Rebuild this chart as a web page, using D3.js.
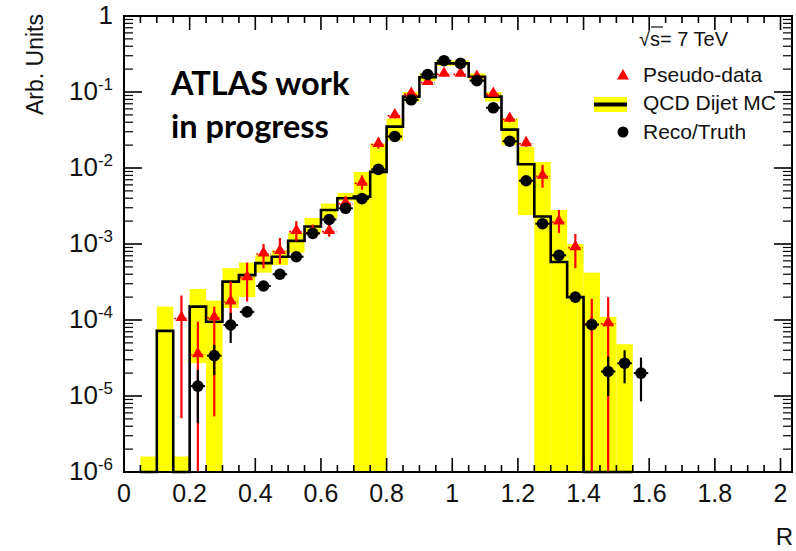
<!DOCTYPE html>
<html lang="en">
<head>
<meta charset="utf-8">
<script src="https://cdn.jsdelivr.net/npm/d3@7/dist/d3.min.js"></script>
<style type="text/css">
body {
	margin: 0;
	background-color: #ffffff;
}
svg text {
	font-family: 'Liberation Sans', Arial, sans-serif;
	fill: #111;
}
.stamp {
	font-family: Lato, 'Open Sans', sans-serif;
	font-weight: 700;
	fill: #000;
}
</style>
</head>
<body>
<script type="text/javascript">

// MC histogram bins (width 0.05), values and yellow uncertainty band
var binCenters = [0.075, 0.125, 0.175, 0.225, 0.275, 0.325, 0.375, 0.425, 0.475, 0.525,
	0.575, 0.625, 0.675, 0.725, 0.775, 0.825, 0.875, 0.925, 0.975, 1.025,
	1.075, 1.125, 1.175, 1.225, 1.275, 1.325, 1.375, 1.425, 1.475, 1.525];
var mcValues = [0, 7.2e-5, 0, 1.5e-4, 9.5e-5, 3.2e-4, 3.9e-4, 5.6e-4, 6.8e-4, 1.1e-3,
	1.7e-3, 2.8e-3, 4.0e-3, 4.2e-3, 8.9e-3, 3.5e-2, 8.7e-2, 0.156, 0.238, 0.238,
	0.159, 0.087, 0.032, 0.0112, 2.3e-3, 5.8e-4, 2.0e-4, 0, 0, 0];
var bandLow = [0, 0, 0, 2.7e-5, 0, 1.44e-4, 2.0e-4, 4.2e-4, 5.3e-4, 7.7e-4,
	1.4e-3, 2.2e-3, 3.7e-3, 0, 0, 2.3e-2, 7.5e-2, 0.14, 0.22, 0.22,
	0.145, 0.075, 0.02, 2.4e-3, 0, 0, 0, 0, 0, 0];
var bandHigh = [1.6e-6, 1.5e-4, 1.6e-6, 2.56e-4, 1.8e-4, 4.8e-4, 5.7e-4, 7.1e-4, 8.2e-4, 1.4e-3,
	2.2e-3, 3.4e-3, 4.7e-3, 8.9e-3, 2.1e-2, 4.5e-2, 0.1, 0.175, 0.26, 0.26,
	0.175, 0.1, 0.045, 0.019, 0.012, 2.8e-3, 1.0e-3, 4.2e-4, 1.1e-4, 4.8e-5];

// Pseudo-data (red triangles)
var pseudoR = [0.175, 0.225, 0.275, 0.325, 0.375, 0.425, 0.475, 0.525, 0.575, 0.625,
	0.675, 0.725, 0.775, 0.825, 0.875, 0.925, 0.975, 1.025, 1.075, 1.125,
	1.175, 1.225, 1.275, 1.325, 1.375, 1.425, 1.475];
var pseudoValues = [1.08e-4, 3.6e-5, 1.1e-4, 1.78e-4, 3.7e-4, 7.6e-4, 8.2e-4, 1.5e-3, 1.45e-3, 1.5e-3,
	3.5e-3, 6.5e-3, 2.1e-2, 5.0e-2, 9.6e-2, 0.137, 0.176, 0.176, 0.16, 0.096,
	0.045, 0.0215, 8.0e-3, 2.0e-3, 9.2e-4, 9.2e-5, 9.2e-5];
var pseudoLow = [5.1e-6, 0, 5.4e-6, 1.0e-4, 1.75e-4, 4.8e-4, 5.5e-4, 1.1e-3, 1.2e-3, 1.25e-3,
	2.9e-3, 5.2e-3, 1.8e-2, 4.5e-2, 8.8e-2, 0.126, 0.162, 0.162, 0.147, 0.088,
	0.040, 0.019, 5.5e-3, 1.4e-3, 4.8e-4, 0, 0];
var pseudoHigh = [2.1e-4, 9.5e-5, 1.5e-4, 3.2e-4, 5.7e-4, 1.0e-3, 1.2e-3, 2.0e-3, 1.8e-3, 1.9e-3,
	4.2e-3, 8.0e-3, 2.5e-2, 5.6e-2, 0.105, 0.15, 0.19, 0.19, 0.175, 0.105,
	0.051, 0.025, 1.1e-2, 2.8e-3, 1.35e-3, 1.9e-4, 2.0e-4];

// Reco/Truth (black circles)
var recoR = [0.225, 0.275, 0.325, 0.375, 0.425, 0.475, 0.525, 0.575, 0.625, 0.675,
	0.725, 0.775, 0.825, 0.875, 0.925, 0.975, 1.025, 1.075, 1.125, 1.175,
	1.225, 1.275, 1.325, 1.375, 1.425, 1.475, 1.525, 1.575];
var recoValues = [1.35e-5, 3.4e-5, 8.6e-5, 1.28e-4, 2.8e-4, 4.0e-4, 6.8e-4, 1.38e-3, 2.1e-3, 2.95e-3,
	3.95e-3, 9.6e-3, 2.6e-2, 0.079, 0.17, 0.258, 0.238, 0.141, 0.062, 0.0225,
	6.8e-3, 1.85e-3, 7.1e-4, 2.0e-4, 8.7e-5, 2.1e-5, 2.7e-5, 2.0e-5];
var recoLow = [4.4e-6, 1.9e-5, 5.0e-5, 1.15e-4, 2.5e-4, 3.6e-4, 6.1e-4, 1.24e-3, 1.9e-3, 2.65e-3,
	3.55e-3, 8.6e-3, 2.35e-2, 0.071, 0.153, 0.232, 0.214, 0.127, 0.056, 0.02,
	6.1e-3, 1.66e-3, 6.4e-4, 1.8e-4, 7.5e-5, 1.0e-5, 1.47e-5, 8.5e-6];
var recoHigh = [2.2e-5, 4.7e-5, 1.24e-4, 1.41e-4, 3.1e-4, 4.4e-4, 7.5e-4, 1.52e-3, 2.3e-3, 3.25e-3,
	4.35e-3, 1.06e-2, 2.85e-2, 0.087, 0.187, 0.284, 0.262, 0.155, 0.068, 0.025,
	7.5e-3, 2.05e-3, 7.8e-4, 2.2e-4, 1.0e-4, 3.3e-5, 4.0e-5, 3.2e-5];

var xTickValues = [0, 0.2, 0.4, 0.6, 0.8, 1, 1.2, 1.4, 1.6, 1.8, 2];
var yTickExponents = [0, -1, -2, -3, -4, -5, -6];
var binWidth = 0.05;

var width = 796, height = 551;
var padL = 124, padR = 792, padT = 16, padB = 472;

var svg = d3.select("body").append("svg")
	.attr("width", width)
	.attr("height", height);

var x = d3.scaleLinear().domain([0, 2.035]).range([padL, padR]);
var y = d3.scaleLog().domain([1e-6, 1]).range([padB, padT]).clamp(true);

// zero values sit on the axis
function yv(v) { return v > 0 ? y(v) : padB; }

// yellow band
svg.append("g").selectAll("rect")
	.data(binCenters)
	.enter().append("rect")
	.attr("x", function(d) { return x(d - binWidth / 2); })
	.attr("width", function(d) { return x(d + binWidth / 2) - x(d - binWidth / 2); })
	.attr("y", function(d, i) { return yv(bandHigh[i]); })
	.attr("height", function(d, i) { return yv(bandLow[i]) - yv(bandHigh[i]); })
	.style("fill", "#ffff00");

// MC step line
var stepPts = binCenters.map(function(c, i) { return [c - binWidth / 2, mcValues[i]]; });
stepPts.push([binCenters[binCenters.length - 1] + binWidth / 2, 0]);
var step = d3.line()
	.x(function(d) { return x(d[0]); })
	.y(function(d) { return yv(d[1]); })
	.curve(d3.curveStepAfter);
svg.append("path")
	.datum(stepPts)
	.attr("d", step)
	.style("fill", "none")
	.style("stroke", "#000")
	.style("stroke-width", 2.6);

// pseudo-data
var red = svg.append("g");
red.selectAll("line.err")
	.data(pseudoR)
	.enter().append("line")
	.attr("class", "err")
	.attr("x1", function(d) { return x(d); })
	.attr("x2", function(d) { return x(d); })
	.attr("y1", function(d, i) { return yv(pseudoLow[i]); })
	.attr("y2", function(d, i) { return yv(pseudoHigh[i]); })
	.style("stroke", "#ff0000")
	.style("stroke-width", 2.2);
red.selectAll("line.hbar")
	.data(pseudoR)
	.enter().append("line")
	.attr("class", "hbar")
	.attr("x1", function(d) { return x(d - 0.022); })
	.attr("x2", function(d) { return x(d + 0.022); })
	.attr("y1", function(d, i) { return y(pseudoValues[i]) + 1; })
	.attr("y2", function(d, i) { return y(pseudoValues[i]) + 1; })
	.style("stroke", "#ff0000")
	.style("stroke-width", 1.6)
	.style("stroke-dasharray", "2,1.5");
red.selectAll("path")
	.data(pseudoR)
	.enter().append("path")
	.attr("d", d3.symbol().type(d3.symbolTriangle).size(62))
	.attr("transform", function(d, i) { return "translate(" + x(d) + "," + y(pseudoValues[i]) + ")"; })
	.style("fill", "#ff0000");

// reco/truth
var blk = svg.append("g");
blk.selectAll("line.err")
	.data(recoR)
	.enter().append("line")
	.attr("class", "err")
	.attr("x1", function(d) { return x(d); })
	.attr("x2", function(d) { return x(d); })
	.attr("y1", function(d, i) { return yv(recoLow[i]); })
	.attr("y2", function(d, i) { return yv(recoHigh[i]); })
	.style("stroke", "#000")
	.style("stroke-width", 2.2);
blk.selectAll("line.hbar")
	.data(recoR)
	.enter().append("line")
	.attr("class", "hbar")
	.attr("x1", function(d) { return x(d - 0.022); })
	.attr("x2", function(d) { return x(d + 0.022); })
	.attr("y1", function(d, i) { return y(recoValues[i]); })
	.attr("y2", function(d, i) { return y(recoValues[i]); })
	.style("stroke", "#000")
	.style("stroke-width", 2);
blk.selectAll("circle")
	.data(recoR)
	.enter().append("circle")
	.attr("cx", function(d) { return x(d); })
	.attr("cy", function(d, i) { return y(recoValues[i]); })
	.attr("r", 5.8)
	.style("fill", "#000");

// frame and ticks
var axes = svg.append("g").style("stroke", "#000");
axes.append("rect")
	.attr("x", padL).attr("y", padT)
	.attr("width", padR - padL).attr("height", padB - padT)
	.style("fill", "none")
	.style("stroke-width", 2);

var xMinor = d3.range(0, 2.0001, 0.05);
xMinor.forEach(function(v) {
	var major = Math.abs(v / 0.2 - Math.round(v / 0.2)) < 1e-6;
	var len = major ? 14 : 7;
	axes.append("line").attr("x1", x(v)).attr("x2", x(v)).attr("y1", padB).attr("y2", padB - len).style("stroke-width", 1.6);
	axes.append("line").attr("x1", x(v)).attr("x2", x(v)).attr("y1", padT).attr("y2", padT + len).style("stroke-width", 1.6);
});

yTickExponents.forEach(function(e) {
	var v = Math.pow(10, e);
	axes.append("line").attr("x1", padL).attr("x2", padL + 18).attr("y1", y(v)).attr("y2", y(v)).style("stroke-width", 1.6);
	axes.append("line").attr("x1", padR).attr("x2", padR - 18).attr("y1", y(v)).attr("y2", y(v)).style("stroke-width", 1.6);
	if (e < 0) {
		for (var k = 2; k <= 9; k++) {
			var m = k * v;
			axes.append("line").attr("x1", padL).attr("x2", padL + 9).attr("y1", y(m)).attr("y2", y(m)).style("stroke-width", 1.2);
			axes.append("line").attr("x1", padR).attr("x2", padR - 9).attr("y1", y(m)).attr("y2", y(m)).style("stroke-width", 1.2);
		}
	}
});

// tick labels
svg.append("g").selectAll("text")
	.data(xTickValues)
	.enter().append("text")
	.attr("x", function(d) { return x(d); })
	.attr("y", 502)
	.attr("text-anchor", "middle")
	.style("font-size", "25px")
	.text(function(d) { return d === Math.round(d) ? d : d.toFixed(1); });

var ylab = svg.append("g").selectAll("text")
	.data(yTickExponents)
	.enter().append("text")
	.attr("x", 113)
	.attr("y", function(d) { return y(Math.pow(10, d)) + 8; })
	.attr("text-anchor", "end")
	.style("font-size", "26px");
ylab.append("tspan").text(function(d) { return d === 0 ? "1" : "10"; });
ylab.filter(function(d) { return d !== 0; })
	.append("tspan")
	.attr("dy", -10)
	.style("font-size", "17px")
	.text(function(d) { return d; });

// axis titles
svg.append("text")
	.attr("transform", "translate(43,14) rotate(-90)")
	.attr("text-anchor", "end")
	.style("font-size", "23px")
	.text("Arb. Units");
svg.append("text")
	.attr("x", 793)
	.attr("y", 545)
	.attr("text-anchor", "end")
	.style("font-size", "24px")
	.text("R");

// ATLAS stamp
svg.append("text").attr("class", "stamp").attr("x", 171).attr("y", 95).style("font-size", "32.5px").text("ATLAS work");
svg.append("text").attr("class", "stamp").attr("x", 171).attr("y", 138).style("font-size", "32.5px").text("in progress");

// legend
var leg = svg.append("g");
leg.append("text").attr("x", 639).attr("y", 46).style("font-size", "20px").text("\u221As= 7 TeV");
leg.append("line").attr("x1", 651).attr("x2", 663).attr("y1", 27).attr("y2", 27).style("stroke", "#111").style("stroke-width", 1.2);
leg.append("path")
	.attr("d", d3.symbol().type(d3.symbolTriangle).size(62))
	.attr("transform", "translate(623,76)")
	.style("fill", "#ff0000");
leg.append("text").attr("x", 643).attr("y", 82).style("font-size", "21px").text("Pseudo-data");
leg.append("rect").attr("x", 594).attr("y", 97).attr("width", 33).attr("height", 15).style("fill", "#ffff00");
leg.append("line").attr("x1", 594).attr("x2", 627).attr("y1", 104.5).attr("y2", 104.5).style("stroke", "#000").style("stroke-width", 4);
leg.append("text").attr("x", 643).attr("y", 110).style("font-size", "21px").text("QCD Dijet MC");
leg.append("circle").attr("cx", 623).attr("cy", 132).attr("r", 5.5).style("fill", "#000");
leg.append("text").attr("x", 643).attr("y", 139).style("font-size", "21px").text("Reco/Truth");

</script>
</body>
</html>
